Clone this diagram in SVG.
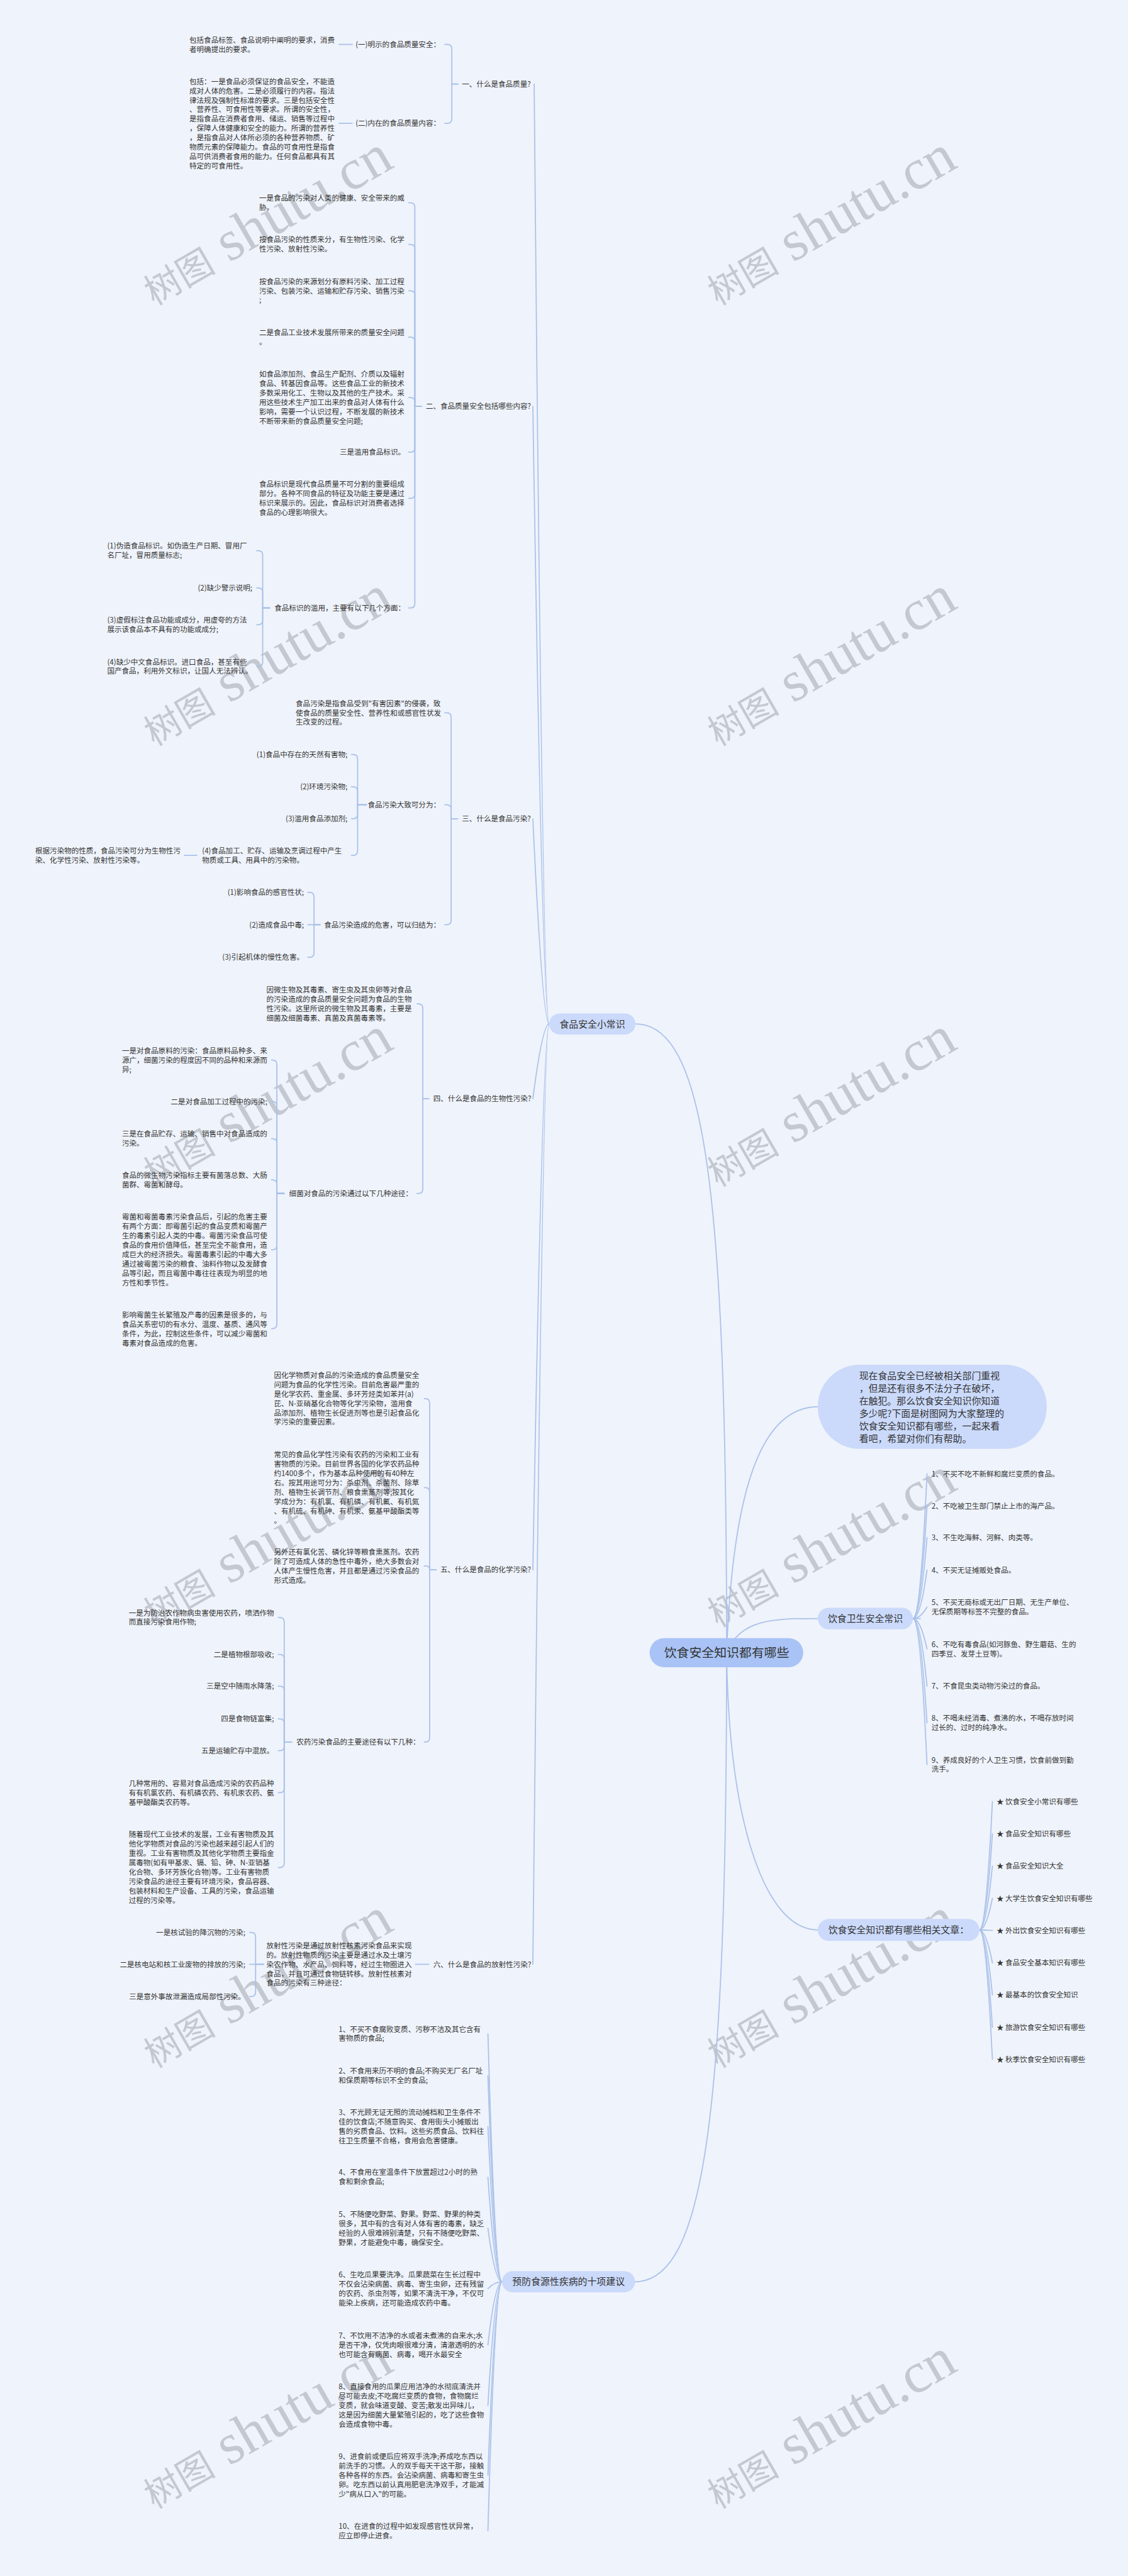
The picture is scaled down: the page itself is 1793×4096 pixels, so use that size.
<svg xmlns="http://www.w3.org/2000/svg" width="1793" height="4096" viewBox="0 0 1793 4096">
<style>
.t{font-family:"Noto Sans CJK SC","Liberation Sans",sans-serif;font-size:16.5px;fill:#333}
.e{text-anchor:end}
.m{text-anchor:middle}
.t2{font-size:21.3px}
.t3{font-size:28.4px}
.c{fill:none;stroke:#a9c1ea;stroke-width:2.5;stroke-linecap:round}
.n1{fill:#cbdafb}
.n0{fill:#a9c3f6}
.wm{font-family:"Liberation Serif","Noto Sans CJK SC",serif;fill:#c4c8d0}
.wa{font-size:82px}
.wb{font-size:130px}
</style>
<defs>
<text id="wmk" class="wm" transform="rotate(-30)"><tspan class="wa">树图</tspan><tspan class="wb"> shutu.cn</tspan></text>
</defs>
<rect width="1793" height="4096" fill="#eff3fb"/>
<g transform="scale(0.7)">
<g id="watermarks">
<use href="#wmk" x="0" y="0" transform="translate(350,695)"/>
<use href="#wmk" transform="translate(1630,695)"/>
<use href="#wmk" transform="translate(350,1696)"/>
<use href="#wmk" transform="translate(1630,1696)"/>
<use href="#wmk" transform="translate(350,2697)"/>
<use href="#wmk" transform="translate(1630,2697)"/>
<use href="#wmk" transform="translate(350,3698)"/>
<use href="#wmk" transform="translate(1630,3698)"/>
<use href="#wmk" transform="translate(350,4699)"/>
<use href="#wmk" transform="translate(1630,4699)"/>
<use href="#wmk" transform="translate(350,5700)"/>
<use href="#wmk" transform="translate(1630,5700)"/>
</g>
<g id="connectors" class="c">
<path d="M1650 3754C1650 2700 1600 2326 1443 2326"/>
<path d="M1650 3754C1650 4800 1600 5183 1442 5183"/>
<path d="M1650 3754C1665 3350 1740 3195.7 1857 3195.7"/>
<path d="M1650 3754C1680 3676.5 1760 3676.5 1857 3676.5"/>
<path d="M1650 3754C1655 4150 1740 4384 1857 4384"/>
<path d="M1213 191Q1232 2326 1247 2326"/>
<path d="M1210 923Q1232 2326 1247 2326"/>
<path d="M1210 1860Q1232 2326 1247 2326"/>
<path d="M1210 2496Q1232 2326 1247 2326"/>
<path d="M1210 3566Q1232 2326 1247 2326"/>
<path d="M1210 4462Q1232 2326 1247 2326"/>
<path d="M1040 191H1026V111Q1026 101 1016 101H1010"/>
<path d="M1040 191H1026V270Q1026 280 1016 280H1010"/>
<path d="M800 101H770"/>
<path d="M800 280H770"/>
<path d="M957 923H942V470.7Q942 460.7 932 460.7H928"/>
<path d="M957 923H942V565Q942 555 932 555H928"/>
<path d="M957 923H942V670.5Q942 660.5 932 660.5H928"/>
<path d="M957 923H942V776Q942 766 932 766H928"/>
<path d="M957 923H942V913Q942 903 932 903H928"/>
<path d="M957 923H942V1017Q942 1027 932 1027H928"/>
<path d="M957 923H942V1122Q942 1132 932 1132H928"/>
<path d="M957 923H942V1371Q942 1381 932 1381H928"/>
<path d="M612 1381H596.5V1261Q596.5 1251 586.5 1251H583"/>
<path d="M612 1381H596.5V1345.7Q596.5 1335.7 586.5 1335.7H583"/>
<path d="M612 1381H596.5V1409Q596.5 1419 586.5 1419H583"/>
<path d="M612 1381H596.5V1504Q596.5 1514 586.5 1514H583"/>
<path d="M1039 1860H1024.5V1629Q1024.5 1619 1014.5 1619H1010"/>
<path d="M1039 1860H1024.5V1838Q1024.5 1828 1014.5 1828H1010"/>
<path d="M1039 1860H1024.5V2090.5Q1024.5 2100.5 1014.5 2100.5H1010"/>
<path d="M832 1828H812V1723.6Q812 1713.6 802 1713.6H798"/>
<path d="M832 1828H812V1797.3Q812 1787.3 802 1787.3H798"/>
<path d="M832 1828H812V1849.7Q812 1859.7 802 1859.7H798"/>
<path d="M832 1828H812V1933Q812 1943 802 1943H798"/>
<path d="M447 1943H419"/>
<path d="M727 2100.5H713V2037Q713 2027 703 2027H699"/>
<path d="M727 2100.5H699"/>
<path d="M727 2100.5H713V2164.5Q713 2174.5 703 2174.5H699"/>
<path d="M973.6 2496H960V2290Q960 2280 950 2280H947"/>
<path d="M973.6 2496H960V2701Q960 2711 950 2711H947"/>
<path d="M645 2711H628.7V2418Q628.7 2408 618.7 2408H616.6"/>
<path d="M645 2711H628.7V2512Q628.7 2502 618.7 2502H616.6"/>
<path d="M645 2711H628.7V2596.7Q628.7 2586.7 618.7 2586.7H616.6"/>
<path d="M645 2711H628.7V2690Q628.7 2680 618.7 2680H616.6"/>
<path d="M645 2711H628.7V2829Q628.7 2839 618.7 2839H616.6"/>
<path d="M645 2711H628.7V3008Q628.7 3018 618.7 3018H616.6"/>
<path d="M990 3566H975.6V3187Q975.6 3177 965.6 3177H963.6"/>
<path d="M990 3566H975.6V3389Q975.6 3379 965.6 3379H963.6"/>
<path d="M990 3566H975.6Q975.6 3557 966.6 3557H963.6"/>
<path d="M990 3566H975.6V3947Q975.6 3957 965.6 3957H963.6"/>
<path d="M662 3957H645.4V3684Q645.4 3674 635.4 3674H632"/>
<path d="M662 3957H645.4V3768Q645.4 3758 635.4 3758H632"/>
<path d="M662 3957H645.4V3840.3Q645.4 3830.3 635.4 3830.3H632"/>
<path d="M662 3957H645.4V3914.4Q645.4 3904.4 635.4 3904.4H632"/>
<path d="M662 3957H645.4V3966.7Q645.4 3976.7 635.4 3976.7H632"/>
<path d="M662 3957H645.4V4062Q645.4 4072 635.4 4072H632"/>
<path d="M662 3957H645.4V4232Q645.4 4242 635.4 4242H632"/>
<path d="M973.6 4462H943.5"/>
<path d="M598.5 4462H580.4V4399.3Q580.4 4389.3 570.4 4389.3H567"/>
<path d="M598.5 4462H567"/>
<path d="M598.5 4462H580.4V4525Q580.4 4535 570.4 4535H567"/>
<path d="M1108 4619.7Q1124 5183 1140 5183"/>
<path d="M1108 4714.7Q1124 5183 1140 5183"/>
<path d="M1108 4830.5Q1124 5183 1140 5183"/>
<path d="M1108 4945.4Q1124 5183 1140 5183"/>
<path d="M1108 5061.6Q1124 5183 1140 5183"/>
<path d="M1108 5198.8Q1124 5183 1140 5183"/>
<path d="M1108 5326.6Q1124 5183 1140 5183"/>
<path d="M1108 5464.2Q1124 5183 1140 5183"/>
<path d="M1108 5622.5Q1124 5183 1140 5183"/>
<path d="M1108 5748.9Q1124 5183 1140 5183"/>
<path d="M2073 3676.5H2090"/>
<path d="M2105 3347.6Q2090 3676.5 2073 3676.5"/>
<path d="M2105 3420.5Q2090 3676.5 2073 3676.5"/>
<path d="M2105 3492.8Q2090 3676.5 2073 3676.5"/>
<path d="M2105 3566.2Q2090 3676.5 2073 3676.5"/>
<path d="M2105 3650.7Q2090 3676.5 2073 3676.5"/>
<path d="M2105 3745.5Q2090 3676.5 2073 3676.5"/>
<path d="M2105 3829.7Q2090 3676.5 2073 3676.5"/>
<path d="M2105 3913.5Q2090 3676.5 2073 3676.5"/>
<path d="M2105 4008.3Q2090 3676.5 2073 3676.5"/>
<path d="M2224 4384H2239"/>
<path d="M2253.5 4092.3Q2239 4384 2224 4384"/>
<path d="M2253.5 4165.2Q2239 4384 2224 4384"/>
<path d="M2253.5 4238.7Q2239 4384 2224 4384"/>
<path d="M2253.5 4312.2Q2239 4384 2224 4384"/>
<path d="M2253.5 4385Q2239 4384 2224 4384"/>
<path d="M2253.5 4458.5Q2239 4384 2224 4384"/>
<path d="M2253.5 4531.5Q2239 4384 2224 4384"/>
<path d="M2253.5 4605Q2239 4384 2224 4384"/>
<path d="M2253.5 4677.8Q2239 4384 2224 4384"/>
</g>
<g id="center"><rect class="n0" x="1475" y="3721" width="349" height="66" rx="33"/><text class="t t3 m" x="1650" y="3764">饮食安全知识都有哪些</text></g>
<g id="intro"><rect class="n1" x="1857" y="3100" width="520" height="191" rx="95"/>
<text class="t t2"><tspan x="1951" y="3133">现在食品安全已经被相关部门重视</tspan><tspan x="1951" y="3161.4">，但是还有很多不法分子在破坏，</tspan><tspan x="1951" y="3189.8">在触犯。那么饮食安全知识你知道</tspan><tspan x="1951" y="3218.2">多少呢?下面是树图网为大家整理的</tspan><tspan x="1951" y="3246.6">饮食安全知识都有哪些，一起来看</tspan><tspan x="1951" y="3275">看吧，希望对你们有帮助。</tspan></text></g>
<g id="hygiene"><rect class="n1" x="1857" y="3652" width="216" height="49" rx="24.5"/><text class="t t2 m" x="1965" y="3684.2">饮食卫生安全常识</text></g>
<g id="hygiene-items" class="t">
<text x="2115.4" y="3353.6">1、不买不吃不新鲜和腐烂变质的食品。</text>
<text x="2115.4" y="3426.5">2、不吃被卫生部门禁止上市的海产品。</text>
<text x="2115.4" y="3498.8">3、不生吃海鲜、河鲜、肉类等。</text>
<text x="2115.4" y="3572.2">4、不买无证摊贩处食品。</text>
<text><tspan x="2115.4" y="3646">5、不买无商标或无出厂日期、无生产单位、</tspan><tspan x="2115.4" y="3667.3">无保质期等标签不完整的食品。</tspan></text>
<text><tspan x="2115.4" y="3740.9">6、不吃有毒食品(如河豚鱼、野生蘑菇、生的</tspan><tspan x="2115.4" y="3762.2">四季豆、发芽土豆等)。</tspan></text>
<text x="2115.4" y="3835.7">7、不食昆虫类动物污染过的食品。</text>
<text><tspan x="2115.4" y="3908.9">8、不喝未经消毒、煮沸的水，不喝存放时间</tspan><tspan x="2115.4" y="3930.2">过长的、过时的纯净水。</tspan></text>
<text><tspan x="2115.4" y="4003.6">9、养成良好的个人卫生习惯，饮食前做到勤</tspan><tspan x="2115.4" y="4024.9">洗手。</tspan></text>
</g>
<g id="articles"><rect class="n1" x="1857" y="4359" width="367" height="50" rx="25"/><text class="t t2 m" x="2040.5" y="4391.7">饮食安全知识都有哪些相关文章：</text></g>
<g id="article-items" class="t">
<text x="2262.7" y="4098.3">★ 饮食安全小常识有哪些</text>
<text x="2262.7" y="4171.2">★ 食品安全知识有哪些</text>
<text x="2262.7" y="4244.7">★ 食品安全知识大全</text>
<text x="2262.7" y="4318.2">★ 大学生饮食安全知识有哪些</text>
<text x="2262.7" y="4391">★ 外出饮食安全知识有哪些</text>
<text x="2262.7" y="4464.5">★ 食品安全基本知识有哪些</text>
<text x="2262.7" y="4537.5">★ 最基本的饮食安全知识</text>
<text x="2262.7" y="4611">★ 旅游饮食安全知识有哪些</text>
<text x="2262.7" y="4683.8">★ 秋季饮食安全知识有哪些</text>
</g>
<g id="tips"><rect class="n1" x="1247" y="2302" width="196" height="48" rx="24"/><text class="t t2 m" x="1345" y="2333.7">食品安全小常识</text></g>
<g id="sec1" class="t">
<text x="1049" y="197">一、什么是食品质量?</text>
<text class="e" x="1000" y="107">(一)明示的食品质量安全：</text>
<text class="e" x="1000" y="286">(二)内在的食品质量内容：</text>
<text><tspan x="430" y="97">包括食品标签、食品说明中阐明的要求，消费</tspan><tspan x="430" y="118.3">者明确提出的要求。</tspan></text>
<text><tspan x="430" y="191">包括：一是食品必须保证的食品安全，不能造</tspan><tspan x="430" y="212.3">成对人体的危害。二是必须履行的内容。指法</tspan><tspan x="430" y="233.6">律法规及强制性标准的要求。三是包括安全性</tspan><tspan x="430" y="254.9">、营养性、可食用性等要求。所谓的安全性，</tspan><tspan x="430" y="276.2">是指食品在消费者食用、储运、销售等过程中</tspan><tspan x="430" y="297.5">，保障人体健康和安全的能力。所谓的营养性</tspan><tspan x="430" y="318.8">，是指食品对人体所必须的各种营养物质、矿</tspan><tspan x="430" y="340.1">物质元素的保障能力。食品的可食用性是指食</tspan><tspan x="430" y="361.4">品可供消费者食用的能力。任何食品都具有其</tspan><tspan x="430" y="382.7">特定的可食用性。</tspan></text>
</g>
<g id="sec2" class="t">
<text x="967" y="929">二、食品质量安全包括哪些内容?</text>
<text><tspan x="588.5" y="456">一是食品的污染对人类的健康、安全带来的威</tspan><tspan x="588.5" y="477.3">胁。</tspan></text>
<text><tspan x="588.5" y="550.3">按食品污染的性质来分，有生物性污染、化学</tspan><tspan x="588.5" y="571.6">性污染、放射性污染。</tspan></text>
<text><tspan x="588.5" y="645.2">按食品污染的来源划分有原料污染、加工过程</tspan><tspan x="588.5" y="666.5">污染、包装污染、运输和贮存污染、销售污染</tspan><tspan x="588.5" y="687.8">;</tspan></text>
<text><tspan x="588.5" y="761.4">二是食品工业技术发展所带来的质量安全问题</tspan><tspan x="588.5" y="782.7">。</tspan></text>
<text><tspan x="588.5" y="855.8">如食品添加剂、食品生产配剂、介质以及辐射</tspan><tspan x="588.5" y="877.1">食品、转基因食品等。这些食品工业的新技术</tspan><tspan x="588.5" y="898.4">多数采用化工、生物以及其他的生产技术。采</tspan><tspan x="588.5" y="919.7">用这些技术生产加工出来的食品对人体有什么</tspan><tspan x="588.5" y="941">影响，需要一个认识过程，不断发展的新技术</tspan><tspan x="588.5" y="962.3">不断带来新的食品质量安全问题;</tspan></text>
<text class="e" x="920" y="1033">三是滥用食品标识。</text>
<text><tspan x="588.5" y="1106">食品标识是现代食品质量不可分割的重要组成</tspan><tspan x="588.5" y="1127.3">部分。各种不同食品的特征及功能主要是通过</tspan><tspan x="588.5" y="1148.7">标识来展示的。因此，食品标识对消费者选择</tspan><tspan x="588.5" y="1170">食品的心理影响很大。</tspan></text>
<text class="e" x="920" y="1387">食品标识的滥用，主要有以下几个方面：</text>
<text><tspan x="243.5" y="1246.3">(1)伪造食品标识。如伪造生产日期、冒用厂</tspan><tspan x="243.5" y="1267.6">名厂址，冒用质量标志;</tspan></text>
<text class="e" x="573" y="1341.7">(2)缺少警示说明;</text>
<text><tspan x="243.5" y="1414.6">(3)虚假标注食品功能或成分，用虚夸的方法</tspan><tspan x="243.5" y="1435.9">展示该食品本不具有的功能或成分;</tspan></text>
<text><tspan x="243.5" y="1509.4">(4)缺少中文食品标识。进口食品，甚至有些</tspan><tspan x="243.5" y="1530.7">国产食品，利用外文标识，让国人无法辨认。</tspan></text>
</g>
<g id="sec3" class="t">
<text x="1049" y="1866">三、什么是食品污染?</text>
<text><tspan x="671.5" y="1603.7">食品污染是指食品受到"有害因素"的侵袭，致</tspan><tspan x="671.5" y="1625">使食品的质量安全性、营养性和或感官性状发</tspan><tspan x="671.5" y="1646.3">生改变的过程。</tspan></text>
<text class="e" x="1000" y="1834">食品污染大致可分为：</text>
<text class="e" x="1000" y="2106.5">食品污染造成的危害，可以归结为：</text>
<text class="e" x="789" y="1719.6">(1)食品中存在的天然有害物;</text>
<text class="e" x="789" y="1793.3">(2)环境污染物;</text>
<text class="e" x="789" y="1865.7">(3)滥用食品添加剂;</text>
<text><tspan x="459" y="1938.3">(4)食品加工、贮存、运输及烹调过程中产生</tspan><tspan x="459" y="1959.6">物质或工具、用具中的污染物。</tspan></text>
<text><tspan x="80" y="1938.3">根据污染物的性质，食品污染可分为生物性污</tspan><tspan x="80" y="1959.6">染、化学性污染、放射性污染等。</tspan></text>
<text class="e" x="690" y="2033">(1)影响食品的感官性状;</text>
<text class="e" x="690" y="2106.5">(2)造成食品中毒;</text>
<text class="e" x="690" y="2180.5">(3)引起机体的慢性危害。</text>
</g>
<g id="sec4" class="t">
<text x="984" y="2502">四、什么是食品的生物性污染?</text>
<text><tspan x="605" y="2254">因微生物及其毒素、寄生虫及其虫卵等对食品</tspan><tspan x="605" y="2275.3">的污染造成的食品质量安全问题为食品的生物</tspan><tspan x="605" y="2296.7">性污染。这里所说的微生物及其毒素，主要是</tspan><tspan x="605" y="2318">细菌及细菌毒素、真菌及真菌毒素等。</tspan></text>
<text class="e" x="937" y="2717">细菌对食品的污染通过以下几种途径：</text>
<text><tspan x="277" y="2392.7">一是对食品原料的污染：食品原料品种多、来</tspan><tspan x="277" y="2414">源广，细菌污染的程度因不同的品种和来源而</tspan><tspan x="277" y="2435.3">异;</tspan></text>
<text class="e" x="607" y="2508">二是对食品加工过程中的污染;</text>
<text><tspan x="277" y="2582">三是在食品贮存、运输、销售中对食品造成的</tspan><tspan x="277" y="2603.3">污染。</tspan></text>
<text><tspan x="277" y="2675.4">食品的微生物污染指标主要有菌落总数、大肠</tspan><tspan x="277" y="2696.7">菌群、霉菌和酵母。</tspan></text>
<text><tspan x="277" y="2770.4">霉菌和霉菌毒素污染食品后，引起的危害主要</tspan><tspan x="277" y="2791.7">有两个方面：即霉菌引起的食品变质和霉菌产</tspan><tspan x="277" y="2813">生的毒素引起人类的中毒。霉菌污染食品可使</tspan><tspan x="277" y="2834.3">食品的食用价值降低，甚至完全不能食用，造</tspan><tspan x="277" y="2855.6">成巨大的经济损失。霉菌毒素引起的中毒大多</tspan><tspan x="277" y="2876.9">通过被霉菌污染的粮食、油料作物以及发酵食</tspan><tspan x="277" y="2898.2">品等引起，而且霉菌中毒往往表现为明显的地</tspan><tspan x="277" y="2919.5">方性和季节性。</tspan></text>
<text><tspan x="277" y="2992.6">影响霉菌生长繁殖及产毒的因素是很多的，与</tspan><tspan x="277" y="3013.9">食品关系密切的有水分、温度、基质、通风等</tspan><tspan x="277" y="3035.2">条件，为此，控制这些条件，可以减少霉菌和</tspan><tspan x="277" y="3056.5">毒素对食品造成的危害。</tspan></text>
</g>
<g id="sec5" class="t">
<text x="1000" y="3572">五、什么是食品的化学污染?</text>
<text><tspan x="622" y="3129.8">因化学物质对食品的污染造成的食品质量安全</tspan><tspan x="622" y="3151.1">问题为食品的化学性污染。目前危害最严重的</tspan><tspan x="622" y="3172.4">是化学农药、重金属、多环芳烃类如苯并(a)</tspan><tspan x="622" y="3193.7">芘、N-亚硝基化合物等化学污染物，滥用食</tspan><tspan x="622" y="3215">品添加剂、植物生长促进剂等也是引起食品化</tspan><tspan x="622" y="3236.3">学污染的重要因素。</tspan></text>
<text><tspan x="622" y="3310.4">常见的食品化学性污染有农药的污染和工业有</tspan><tspan x="622" y="3331.7">害物质的污染。目前世界各国的化学农药品种</tspan><tspan x="622" y="3353">约1400多个，作为基本品种使用的有40种左</tspan><tspan x="622" y="3374.3">右。按其用途可分为：杀虫剂、杀菌剂、除草</tspan><tspan x="622" y="3395.6">剂、植物生长调节剂、粮食熏蒸剂等;按其化</tspan><tspan x="622" y="3416.9">学成分为：有机氯、有机磷、有机氟、有机氮</tspan><tspan x="622" y="3438.2">、有机硫、有机砷、有机汞、氨基甲酸酯类等</tspan><tspan x="622" y="3459.5">。</tspan></text>
<text><tspan x="622" y="3531.1">另外还有氯化苦、磷化锌等粮食熏蒸剂。农药</tspan><tspan x="622" y="3552.4">除了可造成人体的急性中毒外，绝大多数会对</tspan><tspan x="622" y="3573.7">人体产生慢性危害，并且都是通过污染食品的</tspan><tspan x="622" y="3595">形式造成。</tspan></text>
<text class="e" x="953.6" y="3963">农药污染食品的主要途径有以下几种：</text>
<text><tspan x="292.4" y="3669.3">一是为防治农作物病虫害使用农药，喷洒作物</tspan><tspan x="292.4" y="3690.6">而直接污染食用作物;</tspan></text>
<text class="e" x="622" y="3764">二是植物根部吸收;</text>
<text class="e" x="622" y="3836.3">三是空中随雨水降落;</text>
<text class="e" x="622" y="3910.4">四是食物链富集;</text>
<text class="e" x="622" y="3982.7">五是运输贮存中混放。</text>
<text><tspan x="292.4" y="4057.4">几种常用的、容易对食品造成污染的农药品种</tspan><tspan x="292.4" y="4078.7">有有机氯农药、有机磷农药、有机汞农药、氨</tspan><tspan x="292.4" y="4100">基甲酸酯类农药等。</tspan></text>
<text><tspan x="292.4" y="4173.5">随着现代工业技术的发展，工业有害物质及其</tspan><tspan x="292.4" y="4194.8">他化学物质对食品的污染也越来越引起人们的</tspan><tspan x="292.4" y="4216.1">重视。工业有害物质及其他化学物质主要指金</tspan><tspan x="292.4" y="4237.4">属毒物(如有甲基汞、镉、铅、砷、N-亚销基</tspan><tspan x="292.4" y="4258.7">化合物、多环芳族化合物)等。工业有害物质</tspan><tspan x="292.4" y="4280">污染食品的途径主要有环境污染，食品容器、</tspan><tspan x="292.4" y="4301.3">包装材料和生产设备、工具的污染，食品运输</tspan><tspan x="292.4" y="4322.6">过程的污染等。</tspan></text>
</g>
<g id="sec6" class="t">
<text x="984" y="4468">六、什么是食品的放射性污染?</text>
<text><tspan x="605" y="4425.4">放射性污染是通过放射性核素污染食品来实现</tspan><tspan x="605" y="4446.7">的。放射性物质的污染主要是通过水及土壤污</tspan><tspan x="605" y="4468">染农作物、水产品、饲料等，经过生物圈进入</tspan><tspan x="605" y="4489.3">食品，并且可通过食物链转移。放射性核素对</tspan><tspan x="605" y="4510.6">食品的污染有三种途径：</tspan></text>
<text class="e" x="557" y="4395.3">一是核试验的降沉物的污染;</text>
<text class="e" x="557" y="4468">二是核电站和核工业废物的排放的污染;</text>
<text class="e" x="557" y="4541">三是意外事故泄漏造成局部性污染。</text>
</g>
<g id="prevent"><rect class="n1" x="1140" y="5159" width="302" height="48" rx="24"/><text class="t t2 m" x="1291" y="5190.7">预防食源性疾病的十项建议</text></g>
<g id="prevent-items" class="t">
<text><tspan x="769" y="4615">1、不买不食腐败变质、污秽不洁及其它含有</tspan><tspan x="769" y="4636.3">害物质的食品;</tspan></text>
<text><tspan x="769" y="4710">2、不食用来历不明的食品;不购买无厂名厂址</tspan><tspan x="769" y="4731.3">和保质期等标识不全的食品;</tspan></text>
<text><tspan x="769" y="4804.8">3、不光顾无证无照的流动摊档和卫生条件不</tspan><tspan x="769" y="4826.1">佳的饮食店;不随意购买、食用街头小摊贩出</tspan><tspan x="769" y="4847.4">售的劣质食品、饮料。这些劣质食品、饮料往</tspan><tspan x="769" y="4868.7">往卫生质量不合格，食用会危害健康。</tspan></text>
<text><tspan x="769" y="4940.7">4、不食用在室温条件下放置超过2小时的熟</tspan><tspan x="769" y="4962">食和剩余食品;</tspan></text>
<text><tspan x="769" y="5035.6">5、不随便吃野菜、野果。野菜、野果的种类</tspan><tspan x="769" y="5056.9">很多，其中有的含有对人体有害的毒素，缺乏</tspan><tspan x="769" y="5078.2">经验的人很难辨别清楚，只有不随便吃野菜、</tspan><tspan x="769" y="5099.5">野果，才能避免中毒，确保安全。</tspan></text>
<text><tspan x="769" y="5172.8">6、生吃瓜果要洗净。瓜果蔬菜在生长过程中</tspan><tspan x="769" y="5194.1">不仅会沾染病菌、病毒、寄生虫卵，还有残留</tspan><tspan x="769" y="5215.4">的农药、杀虫剂等，如果不清洗干净，不仅可</tspan><tspan x="769" y="5236.7">能染上疾病，还可能造成农药中毒。</tspan></text>
<text><tspan x="769" y="5311.3">7、不饮用不洁净的水或者未煮沸的自来水;水</tspan><tspan x="769" y="5332.6">是否干净，仅凭肉眼很难分清，清澈透明的水</tspan><tspan x="769" y="5353.9">也可能含有病菌、病毒，喝开水最安全</tspan></text>
<text><tspan x="769" y="5427.6">8、直接食用的瓜果应用洁净的水彻底清洗并</tspan><tspan x="769" y="5448.9">尽可能去皮;不吃腐烂变质的食物，食物腐烂</tspan><tspan x="769" y="5470.2">变质，就会味道变酸、变苦;散发出异味儿，</tspan><tspan x="769" y="5491.5">这是因为细菌大量繁殖引起的，吃了这些食物</tspan><tspan x="769" y="5512.8">会造成食物中毒。</tspan></text>
<text><tspan x="769" y="5585.9">9、进食前或便后应将双手洗净;养成吃东西以</tspan><tspan x="769" y="5607.2">前洗手的习惯。人的双手每天干这干那，接触</tspan><tspan x="769" y="5628.5">各种各样的东西。会沾染病菌、病毒和寄生虫</tspan><tspan x="769" y="5649.8">卵。吃东西以前认真用肥皂洗净双手，才能减</tspan><tspan x="769" y="5671.1">少"病从口入"的可能。</tspan></text>
<text><tspan x="769" y="5744.2">10、在进食的过程中如发现感官性状异常，</tspan><tspan x="769" y="5765.5">应立即停止进食。</tspan></text>
</g>
</g>
</svg>
